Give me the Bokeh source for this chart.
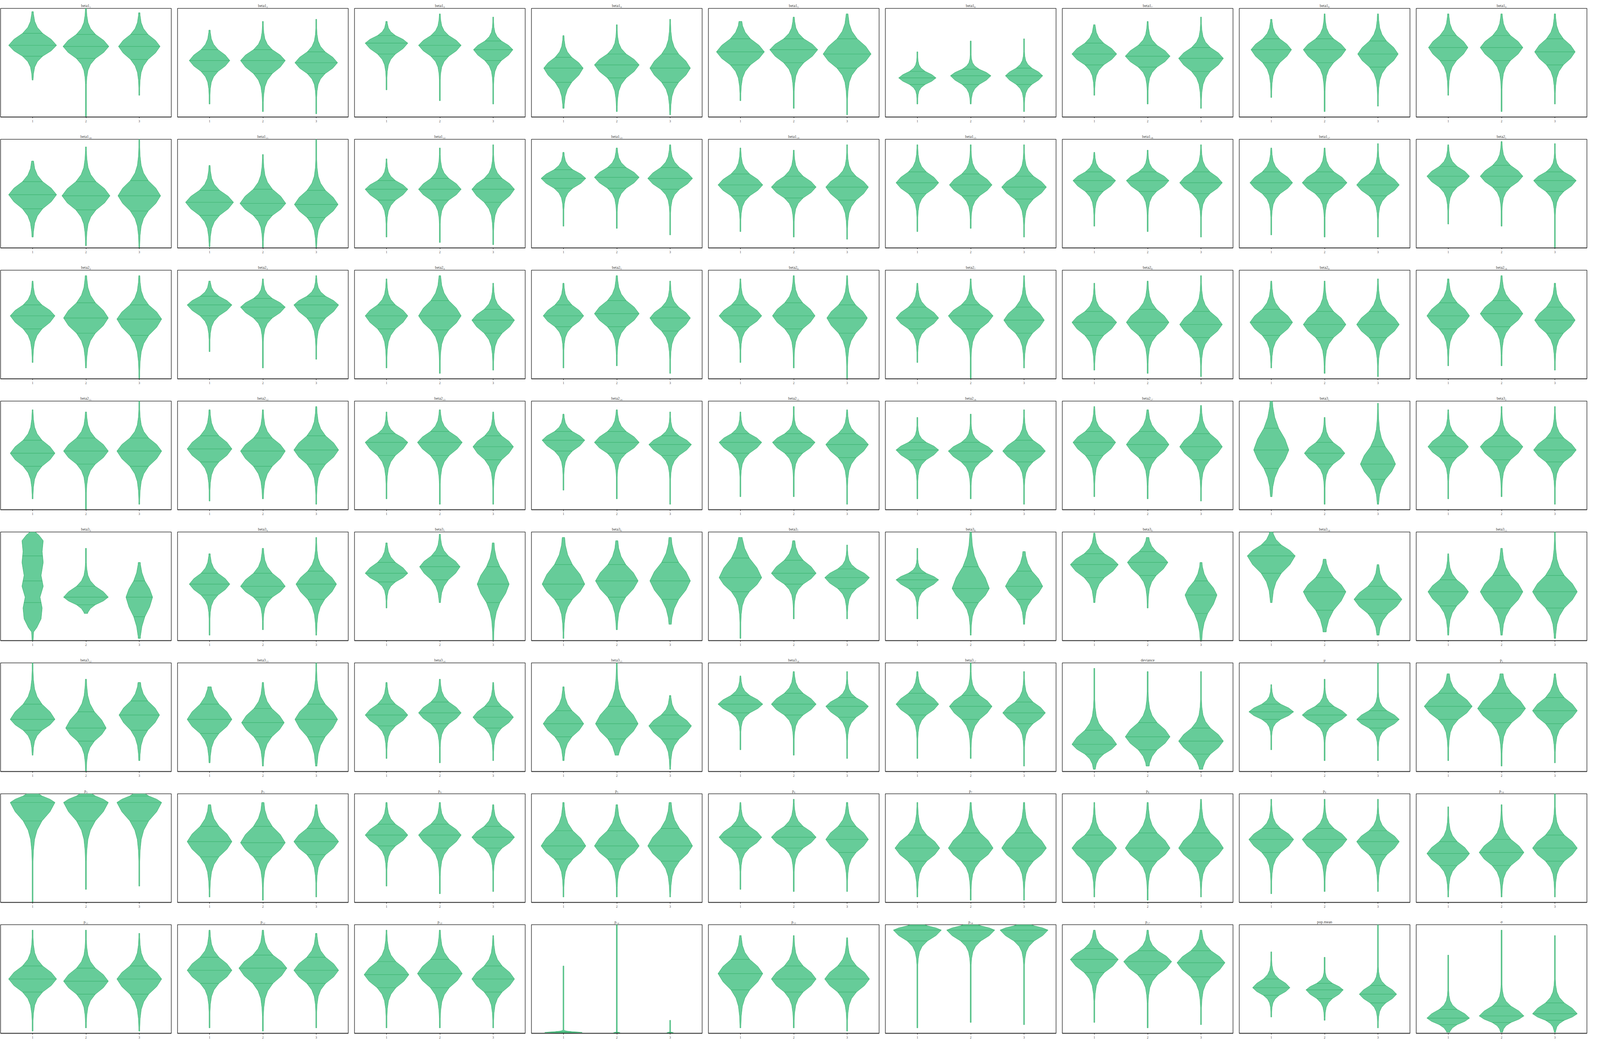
import numpy as np
from bokeh.plotting import figure
from bokeh.layouts import gridplot
from bokeh.models import Range1d, FixedTicker
from bokeh.embed import file_html
from bokeh.resources import INLINE

SUB = str.maketrans("0123456789", "₀₁₂₃₄₅₆₇₈₉")

# panel titles, row by row (9 per row)
titles = ([f"beta1{str(i).translate(SUB)}" for i in range(1, 18)]
          + [f"beta2{str(i).translate(SUB)}" for i in range(1, 18)]
          + [f"beta3{str(i).translate(SUB)}" for i in range(1, 18)]
          + ["deviance", "μ"]
          + [f"p{str(i).translate(SUB)}" for i in range(1, 18)]
          + ["pop.mean", "σ"])

groups = [1, 2, 3]

# values are in percent of each panel's height, three violins per panel
vio_lo = [
    (34, 0, 20), (12, 5, 3), (25, 15, 12), (8, 5, 2), (15, 8, 2), (12, 12, 5), (20, 12, 8), (18, 5, 10), (20, 5, 12),
    (10, 2, 0), (1, 0, 0), (10, 5, 3), (20, 18, 12), (15, 10, 8), (15, 18, 10), (20, 15, 10), (12, 10, 10), (22, 20, 0),
    (15, 10, 0), (25, 10, 18), (10, 5, 8), (10, 12, 5), (15, 10, 0), (15, 0, 10), (8, 5, 2), (10, 5, 2), (12, 12, 8),
    (10, 0, 5), (8, 10, 5), (10, 5, 5), (18, 10, 5), (12, 12, 5), (10, 10, 5), (12, 10, 8), (12, 5, 5), (10, 12, 5),
    (5, 25, 2), (5, 10, 5), (30, 35, 0), (2, 10, 15), (2, 20, 20), (20, 5, 15), (35, 30, 0), (35, 8, 5), (5, 5, 2),
    (15, 0, 10), (8, 5, 5), (12, 8, 10), (10, 15, 2), (20, 15, 12), (12, 12, 5), (2, 5, 2), (20, 10, 10), (10, 5, 8),
    (0, 12, 15), (5, 2, 5), (15, 8, 10), (5, 5, 5), (12, 10, 10), (5, 2, 2), (5, 2, 5), (8, 10, 10), (5, 5, 5),
    (2, 5, 2), (5, 2, 5), (5, 5, 5), (0, 0, 0), (5, 5, 2), (5, 10, 8), (10, 5, 8), (15, 12, 5), (1, 1, 1),
]
vio_q1 = [
    (56, 54, 53), (42, 40, 40), (58, 56, 52), (32, 36, 32), (48, 50, 45), (30, 30, 30), (48, 46, 42), (50, 50, 46), (52, 52, 48),
    (36, 35, 34), (30, 30, 28), (44, 44, 42), (55, 55, 54), (48, 46, 44), (50, 48, 45), (52, 52, 50), (50, 50, 48), (56, 56, 52),
    (46, 42, 40), (58, 56, 56), (46, 45, 42), (48, 48, 44), (48, 46, 42), (46, 46, 42), (40, 40, 38), (40, 38, 38), (46, 48, 42),
    (40, 42, 40), (44, 40, 42), (50, 50, 46), (54, 52, 50), (52, 52, 48), (46, 44, 44), (50, 48, 46), (38, 42, 28), (48, 46, 44),
    (35, 33, 22), (42, 40, 38), (54, 56, 35), (38, 40, 38), (45, 52, 48), (48, 35, 38), (58, 60, 25), (62, 28, 25), (32, 30, 30),
    (38, 28, 38), (35, 32, 32), (42, 44, 40), (32, 30, 30), (54, 52, 50), (52, 48, 44), (16, 20, 16), (48, 44, 40), (48, 45, 44),
    (75, 75, 75), (42, 42, 44), (52, 50, 50), (40, 40, 38), (50, 50, 46), (38, 38, 38), (38, 38, 38), (46, 46, 44), (34, 34, 38),
    (38, 36, 36), (46, 46, 46), (42, 42, 38), (0.4, 0.3, 0.3), (40, 38, 38), (85, 85, 85), (56, 54, 52), (35, 32, 28), (8, 10, 12),
]
vio_med = [
    (66, 65, 65), (52, 52, 50), (68, 66, 62), (45, 48, 45), (60, 62, 58), (36, 38, 38), (58, 56, 54), (62, 62, 58), (64, 64, 60),
    (49, 48, 48), (42, 41, 40), (54, 54, 54), (64, 65, 64), (58, 56, 56), (60, 58, 56), (62, 62, 60), (60, 60, 58), (66, 66, 62),
    (58, 56, 55), (68, 66, 68), (58, 58, 54), (58, 60, 56), (58, 58, 56), (56, 58, 54), (52, 52, 50), (52, 50, 50), (58, 60, 54),
    (52, 54, 54), (56, 54, 55), (62, 62, 58), (64, 62, 60), (62, 62, 60), (55, 54, 54), (62, 60, 58), (55, 52, 42), (58, 58, 55),
    (55, 40, 40), (52, 50, 52), (62, 68, 52), (52, 55, 55), (58, 62, 58), (56, 48, 50), (70, 72, 42), (78, 45, 38), (45, 45, 45),
    (48, 40, 52), (48, 45, 48), (52, 54, 50), (44, 44, 42), (62, 62, 60), (62, 60, 54), (25, 32, 28), (55, 52, 48), (60, 58, 56),
    (92, 92, 92), (56, 55, 56), (62, 62, 60), (52, 52, 52), (60, 60, 58), (50, 50, 50), (50, 50, 50), (58, 58, 56), (45, 46, 50),
    (50, 48, 50), (58, 60, 58), (54, 55, 50), (0.8, 0.6, 0.6), (55, 50, 50), (95, 95, 95), (68, 66, 65), (42, 40, 36), (14, 16, 18),
]
vio_q3 = [
    (77, 76, 76), (62, 62, 60), (75, 75, 70), (55, 58, 58), (72, 72, 72), (42, 44, 45), (68, 66, 64), (72, 72, 70), (75, 75, 72),
    (61, 61, 62), (53, 54, 53), (62, 64, 64), (72, 74, 74), (68, 66, 66), (70, 68, 66), (70, 70, 70), (70, 70, 68), (75, 76, 70),
    (68, 70, 68), (76, 74, 76), (68, 72, 64), (68, 72, 66), (68, 70, 68), (66, 68, 66), (62, 64, 62), (64, 62, 62), (70, 72, 66),
    (64, 66, 66), (68, 66, 68), (70, 72, 68), (72, 72, 68), (70, 70, 70), (62, 62, 64), (72, 72, 70), (75, 62, 58), (68, 68, 66),
    (78, 50, 55), (62, 62, 64), (72, 78, 68), (70, 70, 72), (76, 74, 66), (62, 68, 64), (80, 82, 55), (88, 58, 50), (56, 60, 60),
    (62, 55, 65), (62, 58, 62), (62, 64, 60), (56, 60, 52), (70, 72, 68), (72, 70, 64), (38, 45, 40), (62, 60, 56), (72, 72, 68),
    (98, 98, 98), (70, 70, 68), (72, 72, 70), (66, 66, 68), (70, 70, 70), (62, 64, 64), (62, 64, 64), (68, 68, 66), (56, 58, 62),
    (62, 60, 62), (70, 72, 70), (66, 68, 62), (1.6, 1.0, 1.0), (68, 62, 62), (99, 99, 99), (78, 76, 76), (50, 46, 44), (22, 25, 28),
]
vio_hi = [
    (97, 100, 96), (80, 88, 90), (88, 95, 92), (75, 85, 90), (88, 92, 95), (60, 70, 72), (85, 88, 92), (90, 95, 95), (95, 95, 95),
    (80, 93, 100), (76, 86, 100), (82, 92, 95), (88, 92, 95), (92, 90, 95), (95, 95, 95), (88, 90, 95), (92, 92, 96), (95, 98, 96),
    (90, 95, 95), (90, 92, 95), (92, 95, 88), (88, 95, 90), (92, 95, 95), (88, 92, 95), (88, 90, 95), (90, 90, 92), (92, 95, 88),
    (92, 90, 100), (92, 92, 95), (90, 92, 90), (88, 92, 90), (90, 95, 92), (85, 88, 92), (95, 92, 96), (100, 85, 98), (92, 95, 95),
    (100, 85, 72), (80, 85, 95), (90, 98, 90), (95, 92, 95), (95, 92, 88), (85, 100, 82), (99, 95, 72), (100, 75, 70), (80, 85, 100),
    (100, 85, 82), (78, 82, 100), (82, 85, 82), (78, 100, 70), (88, 92, 92), (92, 100, 92), (95, 92, 92), (80, 85, 100), (90, 90, 90),
    (100, 100, 100), (90, 92, 90), (92, 92, 90), (92, 90, 92), (92, 95, 92), (92, 92, 92), (92, 92, 95), (95, 95, 95), (88, 90, 100),
    (95, 95, 92), (95, 95, 92), (95, 95, 90), (62, 100, 12), (90, 90, 88), (100, 100, 100), (95, 95, 95), (75, 70, 100), (72, 95, 90),
]
# widest half-width of each violin, in x units
vio_w = [
    (.45, .43, .39), (.38, .42, .40), (.40, .40, .37), (.37, .42, .38), (.45, .45, .45), (.35, .38, .35), (.42, .42, .42), (.38, .40, .38), (.37, .40, .38),
    (.45, .45, .40), (.45, .43, .41), (.40, .40, .40), (.42, .42, .42), (.42, .42, .40), (.40, .40, .42), (.40, .40, .40), (.40, .42, .40), (.40, .40, .40),
    (.42, .42, .42), (.42, .42, .42), (.40, .40, .40), (.38, .42, .38), (.40, .40, .38), (.40, .42, .38), (.42, .40, .40), (.40, .40, .40), (.40, .40, .38),
    (.42, .42, .42), (.42, .42, .42), (.40, .42, .38), (.40, .42, .40), (.40, .40, .40), (.40, .42, .40), (.40, .40, .40), (.33, .38, .33), (.38, .40, .40),
    (.22, .42, .25), (.38, .42, .38), (.40, .38, .30), (.40, .40, .38), (.40, .42, .42), (.40, .35, .35), (.45, .38, .30), (.45, .40, .45), (.38, .40, .42),
    (.42, .38, .38), (.42, .40, .40), (.40, .40, .38), (.38, .40, .40), (.42, .42, .40), (.40, .40, .40), (.42, .42, .42), (.42, .42, .40), (.45, .45, .42),
    (.42, .42, .42), (.42, .42, .42), (.40, .40, .40), (.42, .42, .42), (.40, .42, .40), (.42, .42, .42), (.42, .42, .42), (.42, .42, .40), (.40, .42, .42),
    (.45, .42, .42), (.42, .45, .42), (.42, .42, .40), (.35, .06, .06), (.42, .42, .42), (.45, .45, .45), (.45, .45, .45), (.35, .35, .35), (.40, .42, .42),
]

# one violin that is a tall column rather than a diamond: (height %, half-width)
custom_y = {(36, 0): [0, 8, 12, 20, 30, 40, 50, 60, 72, 82, 92, 97, 100]}
custom_h = {(36, 0): [.01, .02, .08, .16, .18, .14, .20, .16, .20, .18, .20, .12, .05]}

# typical violin outline: distance from the median
# in half-interquartile units, and width relative to the widest point
TZ = np.array([0, 0.5, 1.0, 1.5, 2.0, 2.6, 3.2])
TF = np.array([1.0, 0.78, 0.42, 0.2, 0.09, 0.04, 0.015])
TAIL = 0.009

FILL = "#66CC99"
EDGE = "#3CB371"


def outline(lo, q1, med, q3, hi, w):
    sl = max(med - q1, 0.05)
    su = max(q3 - med, 0.05)
    ys = np.concatenate([med - TZ[::-1] * sl, med + TZ[1:] * su])
    hs = np.maximum(np.concatenate([TF[::-1], TF[1:]]) * w, TAIL)
    ye = np.concatenate([[min(lo, ys[0] - 0.01)], ys, [max(hi, ys[-1] + 0.01)]])
    he = np.concatenate([[TAIL], hs, [TAIL]])
    inner = ys[(ys > lo) & (ys < hi)]
    yy = np.concatenate([[lo], inner, [hi]])
    return yy, np.interp(yy, ye, he)


figs = []
for k, name in enumerate(titles):
    p = figure(width=453, height=335, x_range=Range1d(0.4, 3.6), y_range=Range1d(0, 100),
               y_axis_location=None, toolbar_location=None, output_backend="svg",
               min_border_left=1, min_border_right=15, min_border_top=21, min_border_bottom=36)
    p.title.text = name
    p.title.align = "center"
    p.title.text_font = "Liberation Serif"
    p.title.text_font_size = "10px"
    p.title.text_font_style = "normal"
    p.title.standoff = 4
    p.xgrid.visible = False
    p.ygrid.visible = False
    p.outline_line_color = "#333333"
    p.outline_line_width = 1.5
    p.xaxis.ticker = FixedTicker(ticks=groups)
    p.xaxis.axis_line_width = 2
    p.xaxis.axis_line_color = "#333333"
    p.xaxis.major_tick_out = 3
    p.xaxis.major_tick_in = 0
    p.xaxis.minor_tick_out = 0
    p.xaxis.minor_tick_in = 0
    p.xaxis.major_label_text_font = "Liberation Serif"
    p.xaxis.major_label_text_font_size = "8px"
    p.xaxis.major_label_text_color = "#444444"
    p.xaxis.major_label_standoff = 4

    xs, ys = [], []
    sx0, sx1, sy = [], [], []
    for j, cx in enumerate(groups):
        lo, q1, med, q3, hi, w = (vio_lo[k][j], vio_q1[k][j], vio_med[k][j],
                                  vio_q3[k][j], vio_hi[k][j], vio_w[k][j])
        if (k, j) in custom_y:
            yy = np.array(custom_y[(k, j)], float)
            hh = np.array(custom_h[(k, j)], float)
        else:
            yy, hh = outline(lo, q1, med, q3, hi, w)
        xs.append(list(cx + hh) + list(cx - hh[::-1]))
        ys.append(list(yy) + list(yy[::-1]))
        for q in (q1, med, q3):
            h = float(np.interp(q, yy, hh))
            sx0.append(cx - h)
            sx1.append(cx + h)
            sy.append(q)
    p.patches(xs, ys, fill_color=FILL, fill_alpha=1, line_color=EDGE, line_width=1)
    p.segment(sx0, sy, sx1, sy, line_color=EDGE, line_width=1.2)
    figs.append(p)

grid = gridplot(figs, ncols=9, toolbar_location=None)
open("out.html", "w").write(file_html(grid, INLINE))
